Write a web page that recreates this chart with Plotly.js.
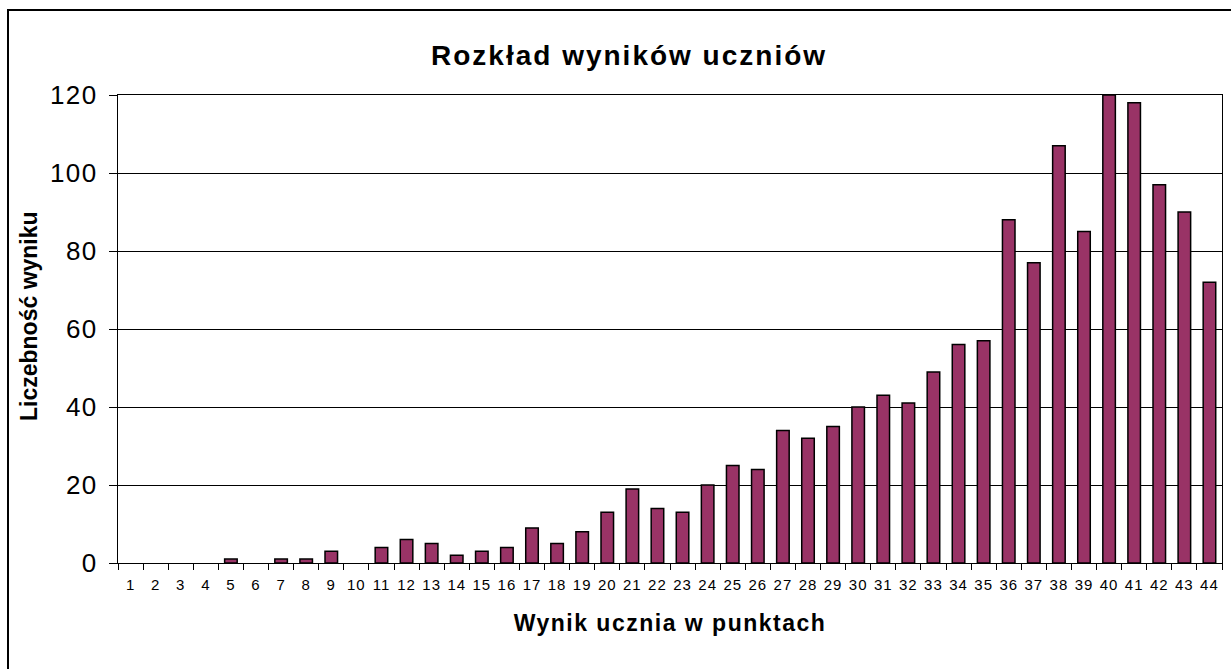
<!DOCTYPE html>
<html>
<head>
<meta charset="utf-8">
<script src="https://cdn.plot.ly/plotly-3.0.1.min.js"></script>
<style>
html,body{margin:0;padding:0;background:#fff;}
#chart{width:1231px;height:669px;}
#chart .gtitle{letter-spacing:2px;}
#chart .xtick text{letter-spacing:1px;}
#chart .ytick text{letter-spacing:1.5px;}
#chart .xtitle{letter-spacing:1.5px;}
</style>
</head>
<body>
<div id="chart"></div>
<script>
const scores = ["1","2","3","4","5","6","7","8","9","10","11","12","13","14","15","16","17","18","19","20","21","22","23","24","25","26","27","28","29","30","31","32","33","34","35","36","37","38","39","40","41","42","43","44"];
const counts = [0,0,0,0,1,0,1,1,3,0,4,6,5,2,3,4,9,5,8,13,19,14,13,20,25,24,34,32,35,40,43,41,49,56,57,88,77,107,85,120,118,97,90,72];
const yTicks = [0,20,40,60,80,100,120];

const chartTitle = "Rozkład wyników uczniów";
const xTitle = "Wynik ucznia w punktach";
const yTitle = "Liczebność wyniku";

const font = "Liberation Sans, Arial, sans-serif";

const trace = {
  type: "bar",
  x: scores,
  y: counts,
  marker: {
    color: "#993366",
    line: {color: "#000000", width: counts.map(v => v > 0 ? 1.5 : 0)}
  },
  hoverinfo: "x+y"
};

const layout = {
  width: 1231,
  height: 669,
  paper_bgcolor: "#ffffff",
  plot_bgcolor: "#ffffff",
  margin: {l: 118, r: 9, t: 95, b: 106},
  bargap: 0.5,
  showlegend: false,
  font: {family: font, color: "#000"},
  title: {
    text: chartTitle,
    font: {family: font, size: 28, color: "#000", weight: "bold"},
    xref: "container", x: 0.511, xanchor: "center",
    yref: "container", y: 1 - 55/669, yanchor: "middle"
  },
  xaxis: {
    type: "category",
    tickson: "boundaries",
    tickangle: 0,
    ticks: "outside",
    ticklen: 6,
    tickcolor: "#000",
    tickwidth: 1,
    ticklabelstandoff: 8,
    showline: true,
    linecolor: "#000",
    linewidth: 1,
    mirror: true,
    showgrid: false,
    tickfont: {family: font, size: 15, color: "#000"},
    title: {text: xTitle, font: {family: font, size: 23, color: "#000", weight: "bold"}, standoff: 22}
  },
  yaxis: {
    range: [0, 120],
    tickvals: yTicks,
    ticks: "outside",
    ticklen: 8,
    tickcolor: "#000",
    ticklabelstandoff: 6,
    showline: true,
    linecolor: "#000",
    linewidth: 1,
    mirror: true,
    showgrid: true,
    gridcolor: "#000",
    gridwidth: 1,
    zeroline: false,
    tickfont: {family: font, size: 26, color: "#000"}
  },
  annotations: [{
    text: yTitle,
    textangle: -90,
    xref: "paper", yref: "paper",
    x: (29 - 118) / 1104, y: (563 - 316) / 468,
    xanchor: "center", yanchor: "middle",
    showarrow: false,
    font: {family: font, size: 23, color: "#000", weight: "bold"}
  }],
  shapes: [{
    type: "rect", xref: "paper", yref: "paper",
    x0: -110/1104, x1: 1 + 30/1104,
    y0: -120/468, y1: 1 + 85/468,
    line: {color: "#000", width: 2}, fillcolor: "rgba(0,0,0,0)", layer: "below"
  }]
};

Plotly.newPlot("chart", [trace], layout, {displayModeBar: false, staticPlot: true});
</script>
</body>
</html>
